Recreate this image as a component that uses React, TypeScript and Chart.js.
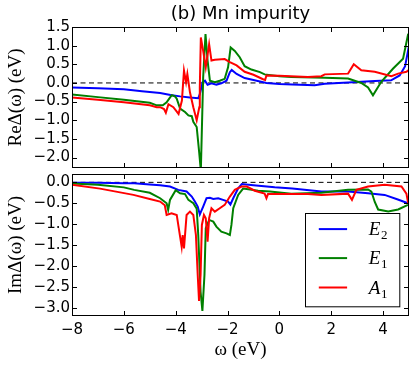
import React, { useEffect, useRef } from "react";
import { Chart, registerables } from "chart.js";
Chart.register(...registerables);

// ---- axis ticks ----
const omegaTicks = [-8, -6, -4, -2, 0, 2, 4];
const reTicks = [-2, -1.5, -1, -0.5, 0, 0.5, 1, 1.5];
const imTicks = [-3, -2.5, -2, -1.5, -1, -0.5, 0];
const X_MIN = -8;
const X_MAX = 5;

// ---- series labels / colours ----
const seriesLabels = ["E_2", "E_1", "A_1"];
const seriesColors = ["#0000ff", "#008000", "#ff0000"];

// ---- Re Delta(omega) ----
const reE2X = [-8, -7, -6, -5.3, -4.6, -4.2, -3.83, -3.45, -3.13, -3.07, -2.96, -2.87, -2.77, -2.62, -2.43, -2.24, -2.04, -1.91, -1.84, -1.65, -1.34, -1.0, -0.5, 0, 0.5, 1.36, 1.75, 2.65, 3.68, 4.31, 4.64, 4.85, 5.0];
const reE2Y = [-0.12, -0.14, -0.17, -0.22, -0.27, -0.32, -0.36, -0.39, -0.41, -0.3, 0.02, 0.06, -0.05, -0.01, -0.05, -0.01, 0.06, 0.29, 0.35, 0.24, 0.13, 0.08, 0.0, -0.03, -0.04, -0.06, -0.02, 0.01, 0.05, 0.07, 0.2, 0.45, 1.0];

const reE1X = [-8, -7, -6, -5, -4.73, -4.5, -4.35, -4.25, -4.15, -4.03, -3.96, -3.83, -3.64, -3.51, -3.38, -3.32, -3.19, -3.09, -3.03, -2.94, -2.85, -2.77, -2.68, -2.49, -2.3, -2.11, -1.98, -1.88, -1.72, -1.53, -1.34, -1.08, -0.75, -0.57, 0, 0.46, 1.75, 2.65, 3.16, 3.42, 3.61, 3.93, 4.38, 4.77, 4.97];
const reE1Y = [-0.31, -0.38, -0.45, -0.53, -0.6, -0.6, -0.52, -0.42, -0.33, -0.36, -0.42, -0.69, -0.78, -0.87, -0.89, -1.04, -1.18, -1.89, -2.35, 0.15, 1.31, 0.6, 0.06, 0.02, 0.06, 0.11, 0.42, 0.95, 0.86, 0.69, 0.45, 0.36, 0.29, 0.23, 0.18, 0.16, 0.14, 0.12, 0.0, -0.12, -0.33, 0.03, 0.38, 0.65, 1.32];

const reA1X = [-8, -7, -6, -5, -4.73, -4.6, -4.45, -4.38, -4.28, -4.09, -3.89, -3.76, -3.68, -3.6, -3.55, -3.45, -3.32, -3.19, -3.09, -3.07, -3.03, -2.94, -2.84, -2.71, -2.62, -2.49, -2.11, -1.91, -1.65, -1.34, -1.0, -0.63, -0.55, -0.5, 0, 1.1, 1.62, 1.75, 2.65, 2.87, 3.16, 3.68, 4.32, 4.58, 4.9, 5.0];
const reA1Y = [-0.39, -0.45, -0.52, -0.6, -0.65, -0.65, -0.7, -0.8, -0.57, -0.65, -0.83, -0.47, 0.33, 0.02, 0.24, -0.25, -0.65, -1.0, -0.65, -0.12, 1.22, 0.86, 0.42, 1.04, 0.6, 0.62, 0.64, 0.56, 0.47, 0.3, 0.22, 0.1, 0.08, 0.2, 0.19, 0.16, 0.18, 0.23, 0.25, 0.5, 0.34, 0.3, 0.18, 0.25, 0.3, 0.35];

// ---- Im Delta(omega) ----
const imE2X = [-8, -7, -6, -5.6, -5, -4.6, -4.22, -3.9, -3.58, -3.38, -3.26, -3.15, -3.07, -2.94, -2.81, -2.68, -2.55, -2.36, -2.17, -1.98, -1.89, -1.78, -1.59, -1.45, -1.0, -0.18, 0.5, 1.62, 2.65, 3.42, 4.06, 4.57, 4.96];
const imE2Y = [-0.01, -0.01, -0.02, -0.02, -0.05, -0.07, -0.1, -0.18, -0.22, -0.34, -0.46, -0.58, -0.77, -0.58, -0.38, -0.37, -0.4, -0.38, -0.42, -0.46, -0.53, -0.38, -0.14, -0.04, -0.07, -0.12, -0.15, -0.22, -0.22, -0.26, -0.3, -0.41, -0.5];

const imE1X = [-8, -7, -6, -5.6, -5, -4.6, -4.35, -4.29, -4.22, -4.0, -3.83, -3.64, -3.51, -3.32, -3.19, -3.13, -3.04, -2.97, -2.89, -2.84, -2.71, -2.55, -2.43, -2.24, -2.04, -1.91, -1.85, -1.78, -1.59, -1.4, -1.13, -0.82, -0.36, 0.46, 1.62, 2.65, 3.42, 3.55, 3.68, 3.81, 4.2, 4.58, 4.96];
const imE1Y = [-0.03, -0.06, -0.12, -0.18, -0.25, -0.38, -0.5, -0.66, -0.42, -0.19, -0.26, -0.28, -0.42, -0.5, -0.63, -1.26, -2.62, -3.08, -2.22, -1.1, -0.9, -0.94, -1.06, -1.18, -1.22, -1.26, -1.02, -0.62, -0.3, -0.15, -0.17, -0.2, -0.22, -0.27, -0.25, -0.18, -0.17, -0.22, -0.47, -0.65, -0.7, -0.65, -0.54];

const imA1X = [-8, -6.92, -5.63, -5, -4.6, -4.42, -4.35, -4.16, -3.96, -3.83, -3.77, -3.73, -3.68, -3.58, -3.45, -3.32, -3.22, -3.15, -3.1, -3.04, -2.99, -2.91, -2.84, -2.77, -2.71, -2.62, -2.49, -2.3, -2.11, -1.91, -1.72, -1.46, -1.26, -0.95, -0.57, -0.5, -0.44, 1.1, 1.62, 2.65, 2.8, 2.97, 3.42, 4.06, 4.71, 4.9, 4.97];
const imA1Y = [-0.06, -0.15, -0.3, -0.4, -0.46, -0.55, -0.78, -0.74, -0.78, -1.3, -1.54, -1.26, -1.58, -0.78, -0.7, -0.78, -1.26, -2.22, -2.84, -2.22, -1.02, -0.78, -0.86, -1.42, -0.86, -0.62, -0.7, -0.62, -0.54, -0.34, -0.18, -0.1, -0.1, -0.2, -0.27, -0.38, -0.28, -0.28, -0.3, -0.27, -0.42, -0.18, -0.1, -0.06, -0.1, -0.27, -0.5];

const SANS = "'DejaVu Sans', sans-serif";
const SERIF = "'Liberation Serif', 'DejaVu Serif', serif";

function fmtTick(v: number): string {
  const s = Math.abs(v).toFixed(1);
  return v < -1e-9 ? "\u2212" + s : s;
}
function fmtInt(v: number): string {
  return v < 0 ? "\u2212" + Math.abs(v) : String(v);
}
function pts(xs: number[], ys: number[]) {
  return xs.map((x, i) => ({ x, y: ys[i] }));
}

function buildDatasets(xsList: number[][], ysList: number[][]) {
  const ds: any[] = xsList.map((xs, i) => ({
    label: seriesLabels[i],
    data: pts(xs, ysList[i]),
    borderColor: seriesColors[i],
    backgroundColor: seriesColors[i],
    borderWidth: 2,
    pointRadius: 0,
    tension: 0,
    fill: false,
    order: 2 - i,
  }));
  ds.push({
    label: "",
    data: [
      { x: X_MIN, y: 0 },
      { x: X_MAX, y: 0 },
    ],
    borderColor: "#000",
    borderWidth: 1,
    borderDash: [5, 3.5],
    pointRadius: 0,
    fill: false,
    order: 3,
  });
  return ds;
}

const framePlugin = {
  id: "frame",
  afterDatasetsDraw(chart: any, _args: any, opts: any) {
    const { ctx, chartArea: a, scales } = chart;
    const L = Math.round(a.left) + 0.5;
    const R = Math.round(a.right) - 0.5;
    const T = Math.round(a.top) + 0.5;
    const B = Math.round(a.bottom) - 0.5;
    const len = 4.5;
    ctx.save();
    ctx.strokeStyle = "#000";
    ctx.lineWidth = 1;
    ctx.setLineDash([]);
    ctx.strokeRect(L, T, R - L, B - T);
    ctx.beginPath();
    (opts.xTicks || []).forEach((v: number) => {
      const px = Math.round(scales.x.getPixelForValue(v)) + 0.5;
      ctx.moveTo(px, B);
      ctx.lineTo(px, B - len);
      ctx.moveTo(px, T);
      ctx.lineTo(px, T + len);
    });
    (opts.yTicks || []).forEach((v: number) => {
      const py = Math.round(scales.y.getPixelForValue(v)) + 0.5;
      ctx.moveTo(L, py);
      ctx.lineTo(L + len, py);
      ctx.moveTo(R, py);
      ctx.lineTo(R - len, py);
    });
    ctx.stroke();
    ctx.restore();
  },
};

const boxLegendPlugin = {
  id: "boxLegend",
  afterDraw(chart: any, _args: any, opts: any) {
    if (!opts || !opts.show) return;
    const { ctx, chartArea: a } = chart;
    const w = opts.width;
    const h = opts.height;
    const left = Math.round(a.right - opts.rightInset - w) + 0.5;
    const top = Math.round(a.top + opts.topInset) + 0.5;
    ctx.save();
    ctx.fillStyle = "#fff";
    ctx.fillRect(left, top, w, h);
    ctx.strokeStyle = "#000";
    ctx.lineWidth = 1;
    ctx.setLineDash([]);
    ctx.strokeRect(left, top, w, h);
    const items = chart.data.datasets.filter((d: any) => d.label);
    const ordered = opts.order.map((lab: string) => items.find((d: any) => d.label === lab));
    ordered.forEach((d: any, i: number) => {
      const y = top + opts.rowY[i];
      ctx.strokeStyle = d.borderColor;
      ctx.lineWidth = 2;
      ctx.beginPath();
      ctx.moveTo(left + opts.lineX0, y);
      ctx.lineTo(left + opts.lineX1, y);
      ctx.stroke();
      const [base, sub] = String(d.label).split("_");
      ctx.fillStyle = "#000";
      ctx.textBaseline = "alphabetic";
      ctx.textAlign = "left";
      ctx.font = `italic 19px ${SERIF}`;
      const tx = left + opts.textX;
      const by = y + 6;
      ctx.fillText(base, tx, by);
      const bw = ctx.measureText(base).width;
      ctx.font = `13px ${SERIF}`;
      ctx.fillText(sub, tx + bw + 0.5, by + 4);
    });
    ctx.restore();
  },
};

function yScale(min: number, max: number, ticks: number[], title: string) {
  return {
    type: "linear",
    min,
    max,
    afterBuildTicks: (s: any) => {
      s.ticks = ticks.map((v) => ({ value: v }));
    },
    afterFit: (s: any) => {
      s.width = 72;
      s.paddingTop = 0;
      s.paddingBottom = 0;
    },
    grid: { display: false, drawTicks: false },
    border: { display: false },
    ticks: {
      autoSkip: false,
      padding: 2,
      color: "#000",
      font: { family: SANS, size: 15 },
      callback: (v: any) => fmtTick(Number(v)),
    },
    title: {
      display: true,
      text: title,
      color: "#000",
      font: { family: SERIF, size: 19 },
      padding: { top: 5, bottom: 0 },
    },
  };
}

function topConfig(): any {
  return {
    type: "line",
    data: { datasets: buildDatasets([reE2X, reE1X, reA1X], [reE2Y, reE1Y, reA1Y]) },
    options: {
      animation: false,
      responsive: false,
      events: [],
      layout: { padding: { left: 0, right: 7, top: 0, bottom: 3 } },
      scales: {
        x: { type: "linear", min: X_MIN, max: X_MAX, display: false },
        y: yScale(-2.28, 1.5, reTicks, "Re\u0394(\u03c9) (eV)"),
      },
      plugins: {
        legend: { display: false },
        tooltip: { enabled: false },
        title: {
          display: true,
          text: "(b) Mn impurity",
          fullSize: false,
          color: "#000",
          font: { family: SANS, size: 18, weight: "normal" },
          padding: { top: 4, bottom: 1.4 },
        },
        frame: { xTicks: omegaTicks, yTicks: reTicks },
        boxLegend: { show: false },
      },
    },
    plugins: [framePlugin, boxLegendPlugin],
  };
}

function bottomConfig(): any {
  return {
    type: "line",
    data: { datasets: buildDatasets([imE2X, imE1X, imA1X], [imE2Y, imE1Y, imA1Y]) },
    options: {
      animation: false,
      responsive: false,
      events: [],
      layout: { padding: { left: 0, right: 7, top: 3, bottom: 0 } },
      scales: {
        x: {
          type: "linear",
          min: X_MIN,
          max: X_MAX,
          afterBuildTicks: (s: any) => {
            s.ticks = omegaTicks.map((v) => ({ value: v }));
          },
          afterFit: (s: any) => {
            s.height = 51;
            s.paddingLeft = 0;
            s.paddingRight = 0;
          },
          grid: { display: false, drawTicks: false },
          border: { display: false },
          ticks: {
            autoSkip: false,
            maxRotation: 0,
            padding: 5,
            color: "#000",
            font: { family: SANS, size: 15 },
            callback: (v: any) => fmtInt(Number(v)),
          },
          title: {
            display: true,
            text: "\u03c9 (eV)",
            color: "#000",
            font: { family: SERIF, size: 19 },
            padding: { top: 0, bottom: 5.6 },
          },
        },
        y: yScale(-3.2, 0.2, imTicks, "Im\u0394(\u03c9) (eV)"),
      },
      plugins: {
        legend: { display: false },
        tooltip: { enabled: false },
        frame: { xTicks: omegaTicks, yTicks: imTicks },
        boxLegend: {
          show: true,
          order: seriesLabels,
          rightInset: 10,
          topInset: 38.7,
          width: 94.3,
          height: 93.3,
          rowY: [15.6, 44.6, 74],
          lineX0: 13.3,
          lineX1: 41.6,
          textX: 63.3,
        },
      },
    },
    plugins: [framePlugin, boxLegendPlugin],
  };
}

export default function App() {
  const topRef = useRef<HTMLCanvasElement | null>(null);
  const botRef = useRef<HTMLCanvasElement | null>(null);
  useEffect(() => {
    const c1 = new Chart(topRef.current as HTMLCanvasElement, topConfig());
    const c2 = new Chart(botRef.current as HTMLCanvasElement, bottomConfig());
    return () => {
      c1.destroy();
      c2.destroy();
    };
  }, []);
  return (
    <div style={{ position: "absolute", left: 0, top: 0, width: 416, height: 367, background: "#fff" }}>
      <canvas
        ref={topRef}
        width={416}
        height={171}
        style={{ position: "absolute", left: 0, top: 0, width: 416, height: 171, display: "block" }}
      />
      <canvas
        ref={botRef}
        width={416}
        height={196}
        style={{ position: "absolute", left: 0, top: 171, width: 416, height: 196, display: "block" }}
      />
    </div>
  );
}
